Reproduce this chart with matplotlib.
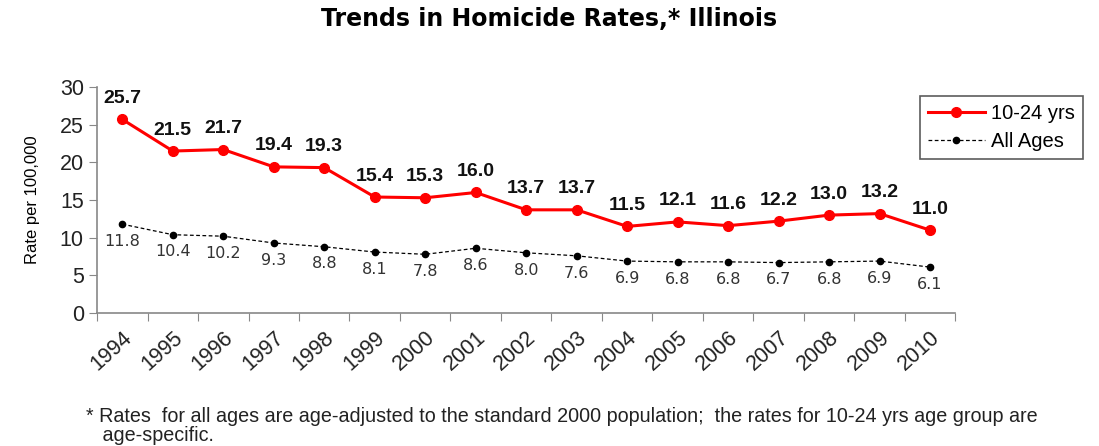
import numpy as np
import matplotlib.pyplot as plt

years = ["1994", "1995", "1996", "1997", "1998", "1999", "2000", "2001", "2002",
         "2003", "2004", "2005", "2006", "2007", "2008", "2009", "2010"]
youth = [25.7, 21.5, 21.7, 19.4, 19.3, 15.4, 15.3, 16.0, 13.7, 13.7, 11.5, 12.1,
         11.6, 12.2, 13.0, 13.2, 11.0]
all_ages = [11.8, 10.4, 10.2, 9.3, 8.8, 8.1, 7.8, 8.6, 8.0, 7.6, 6.9, 6.8, 6.8,
            6.7, 6.8, 6.9, 6.1]

plt.rcParams['font.family'] = ['Liberation Sans', 'DejaVu Sans']

fig = plt.figure(figsize=(10.99, 4.46), dpi=100)
ax = fig.add_axes([0.0883, 0.298, 0.781, 0.507])
x = np.arange(len(years))

ax.plot(x, youth, color="#ff0000", lw=2.2, marker="o", ms=7, label="10-24 yrs")
ax.plot(x, all_ages, color="black", lw=0.9, ls=(0, (3, 2)), marker="o", ms=4.5,
        label="All Ages")

for i in range(len(years)):
    ax.annotate(f"{youth[i]:.1f}", (x[i], youth[i]), xytext=(0, 9),
                textcoords="offset points", ha="center", va="bottom",
                fontsize=14, fontweight="bold", color="#111111")
    ax.annotate(f"{all_ages[i]:.1f}", (x[i], all_ages[i]), xytext=(0, -7),
                textcoords="offset points", ha="center", va="top",
                fontsize=11.5, color="#333333", family=["DejaVu Sans"])

ax.set_xlim(-0.5, len(years) - 0.5)
ax.set_ylim(0, 30)
ax.set_yticks(range(0, 31, 5))
ax.set_xticks(np.arange(-0.5, len(years), 1), minor=False)
ax.set_xticklabels([])
ax.set_xticks(x, minor=True)
ax.set_xticklabels(years, minor=True, rotation=42, ha="right", rotation_mode="anchor",
                   fontsize=15.5, color="#222222")
ax.tick_params(axis="x", which="minor", length=0, pad=10)
ax.tick_params(axis="x", which="major", length=6, color="#888888")
ax.tick_params(axis="y", labelsize=15.5, length=6, color="#888888", labelcolor="#222222")

for s in ["top", "right"]:
    ax.spines[s].set_visible(False)
for s in ["left", "bottom"]:
    ax.spines[s].set_color("#888888")
    ax.spines[s].set_linewidth(1.2)

ax.set_ylabel("Rate per 100,000", fontsize=12, labelpad=14)

leg = ax.legend(loc="upper left", bbox_to_anchor=(0.959, 0.96), fontsize=14.5,
                frameon=True, fancybox=False, edgecolor="#333333",
                handlelength=2.8, handletextpad=0.3, borderpad=0.4,
                labelspacing=0.45, borderaxespad=0)
leg.get_frame().set_linewidth(1.2)

fig.text(0.5, 0.957, "Trends in Homicide Rates,* Illinois", ha="center", va="center",
         fontsize=17, fontweight="bold", family=["DejaVu Sans"])
fig.text(0.078, 0.045, "* Rates  for all ages are age-adjusted to the standard 2000 population;  the rates for 10-24 yrs age group are\n   age-specific.",
         ha="left", va="center", fontsize=14.2, color="#222222", linespacing=1.0)

fig.savefig("out.png", dpi=100)
